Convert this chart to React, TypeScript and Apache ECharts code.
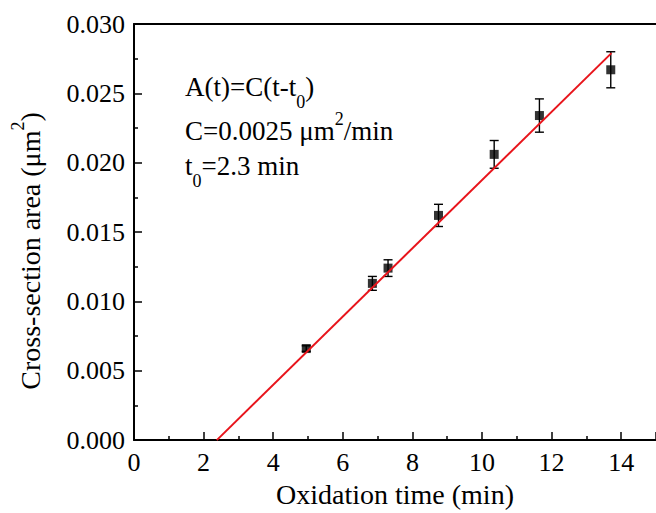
import React, { useEffect, useRef } from "react";
import * as echarts from "echarts";

// Data
const oxidationTime = [4.95, 6.85, 7.3, 8.75, 10.35, 11.65, 13.7];
const crossArea = [0.0066, 0.0113, 0.0124, 0.0162, 0.0206, 0.0234, 0.0267];
const areaError = [0.0002, 0.0005, 0.0006, 0.0008, 0.001, 0.0012, 0.0013];
const fitTime = [2.38, 13.72];
const fitArea = [0, 0.0279];
const xTicks = [0, 2, 4, 6, 8, 10, 12, 14];

const FONT = "serif";

export default function App() {
  const ref = useRef<HTMLDivElement>(null);

  useEffect(() => {
    if (!ref.current) return;
    document.body.style.overflow = "hidden";
    const chart = echarts.init(ref.current, null, { renderer: "svg" });

    const points = oxidationTime.map((t, i) => [t, crossArea[i]]);
    const errData = oxidationTime.map((t, i) => [t, crossArea[i] - areaError[i], crossArea[i] + areaError[i]]);
    const fitData = fitTime.map((t, i) => [t, fitArea[i]]);

    const baseRich = (L: number) => ({
      n: { fontFamily: FONT, fontSize: 27, color: "#000", lineHeight: L, verticalAlign: "middle" },
      sub: { fontFamily: FONT, fontSize: 18, color: "#000", lineHeight: 18, verticalAlign: "bottom" },
      sup: { fontFamily: FONT, fontSize: 18, color: "#000", lineHeight: 18, verticalAlign: "top" },
    });

    const option: any = {
      animation: false,
      backgroundColor: "#fff",
      grid: { left: 134, right: 24, top: 24, bottom: 63, show: false },
      xAxis: [
        {
          type: "value",
          min: 0,
          max: 15,
          interval: 2,
          name: "Oxidation time (min)",
          nameLocation: "middle",
          nameGap: 37,
          nameTextStyle: { fontFamily: FONT, fontSize: 28, color: "#000" },
          axisLine: { show: true, onZero: false, lineStyle: { color: "#000", width: 2 } },
          axisTick: { show: true, inside: true, length: 8, lineStyle: { color: "#000", width: 1.5 } },
          minorTick: { show: true, splitNumber: 2, length: 4, lineStyle: { color: "#000", width: 1.5 } },
          axisLabel: {
            fontFamily: FONT,
            fontSize: 26,
            color: "#000",
            margin: 9,
            formatter: (v: number) => (xTicks.indexOf(v) >= 0 ? String(v) : ""),
          },
          splitLine: { show: false },
        },
        {
          type: "value",
          position: "top",
          min: 0,
          max: 15,
          axisLine: { show: true, onZero: false, lineStyle: { color: "#000", width: 2 } },
          axisTick: { show: false },
          axisLabel: { show: false },
          splitLine: { show: false },
        },
      ],
      yAxis: {
        type: "value",
        min: 0,
        max: 0.03,
        interval: 0.005,
        axisLine: { show: true, onZero: false, lineStyle: { color: "#000", width: 2 } },
        axisTick: { show: true, inside: true, length: 8, lineStyle: { color: "#000", width: 1.5 } },
        minorTick: { show: true, splitNumber: 2, length: 4, lineStyle: { color: "#000", width: 1.5 } },
        axisLabel: {
          fontFamily: FONT,
          fontSize: 26,
          color: "#000",
          margin: 9,
          formatter: (v: number) => v.toFixed(3),
        },
        splitLine: { show: false },
      },
      series: [
        {
          type: "custom",
          data: errData,
          z: 3,
          renderItem: (params: any, api: any) => {
            const x = api.value(0);
            const pLo = api.coord([x, api.value(1)]);
            const pHi = api.coord([x, api.value(2)]);
            const w = 4.5;
            const st = { stroke: "#000", lineWidth: 1.4 };
            return {
              type: "group",
              children: [
                { type: "line", shape: { x1: pHi[0], y1: pHi[1], x2: pLo[0], y2: pLo[1] }, style: st },
                { type: "line", shape: { x1: pHi[0] - w, y1: pHi[1], x2: pHi[0] + w, y2: pHi[1] }, style: st },
                { type: "line", shape: { x1: pLo[0] - w, y1: pLo[1], x2: pLo[0] + w, y2: pLo[1] }, style: st },
              ],
            };
          },
        },
        {
          type: "scatter",
          data: points,
          symbol: "rect",
          symbolSize: 9,
          itemStyle: { color: "#000" },
          z: 4,
        },
        {
          type: "line",
          data: fitData,
          symbol: "none",
          lineStyle: { color: "#e8141b", width: 2 },
          z: 5,
        },
      ],
      graphic: [
        {
          type: "text",
          x: 185,
          y: 87,
          style: {
            text: "{n|A(t)=C(t-t}{sub|0}{n|)}",
            rich: baseRich(48),
            align: "left",
            verticalAlign: "middle",
          },
        },
        {
          type: "text",
          x: 185,
          y: 131,
          style: {
            text: "{n|C=0.0025 μm}{sup|2}{n|/min}",
            rich: baseRich(42),
            align: "left",
            verticalAlign: "middle",
          },
        },
        {
          type: "text",
          x: 185,
          y: 166,
          style: {
            text: "{n|t}{sub|0}{n|=2.3 min}",
            rich: baseRich(48),
            align: "left",
            verticalAlign: "middle",
          },
        },
        {
          type: "text",
          x: 30,
          y: 251,
          rotation: Math.PI / 2,
          style: {
            text: "{n|Cross-section area (μm}{sup|2}{n|)}",
            rich: {
              n: { fontFamily: FONT, fontSize: 28, color: "#000", lineHeight: 42, verticalAlign: "middle" },
              sup: { fontFamily: FONT, fontSize: 18, color: "#000", lineHeight: 18, verticalAlign: "top" },
            },
            align: "center",
            verticalAlign: "middle",
          },
        },
      ],
    };

    chart.setOption(option);
    return () => chart.dispose();
  }, []);

  return (
    <div
      ref={ref}
      style={{ position: "absolute", left: 0, top: 0, width: 680, height: 513, background: "#fff" }}
    />
  );
}
